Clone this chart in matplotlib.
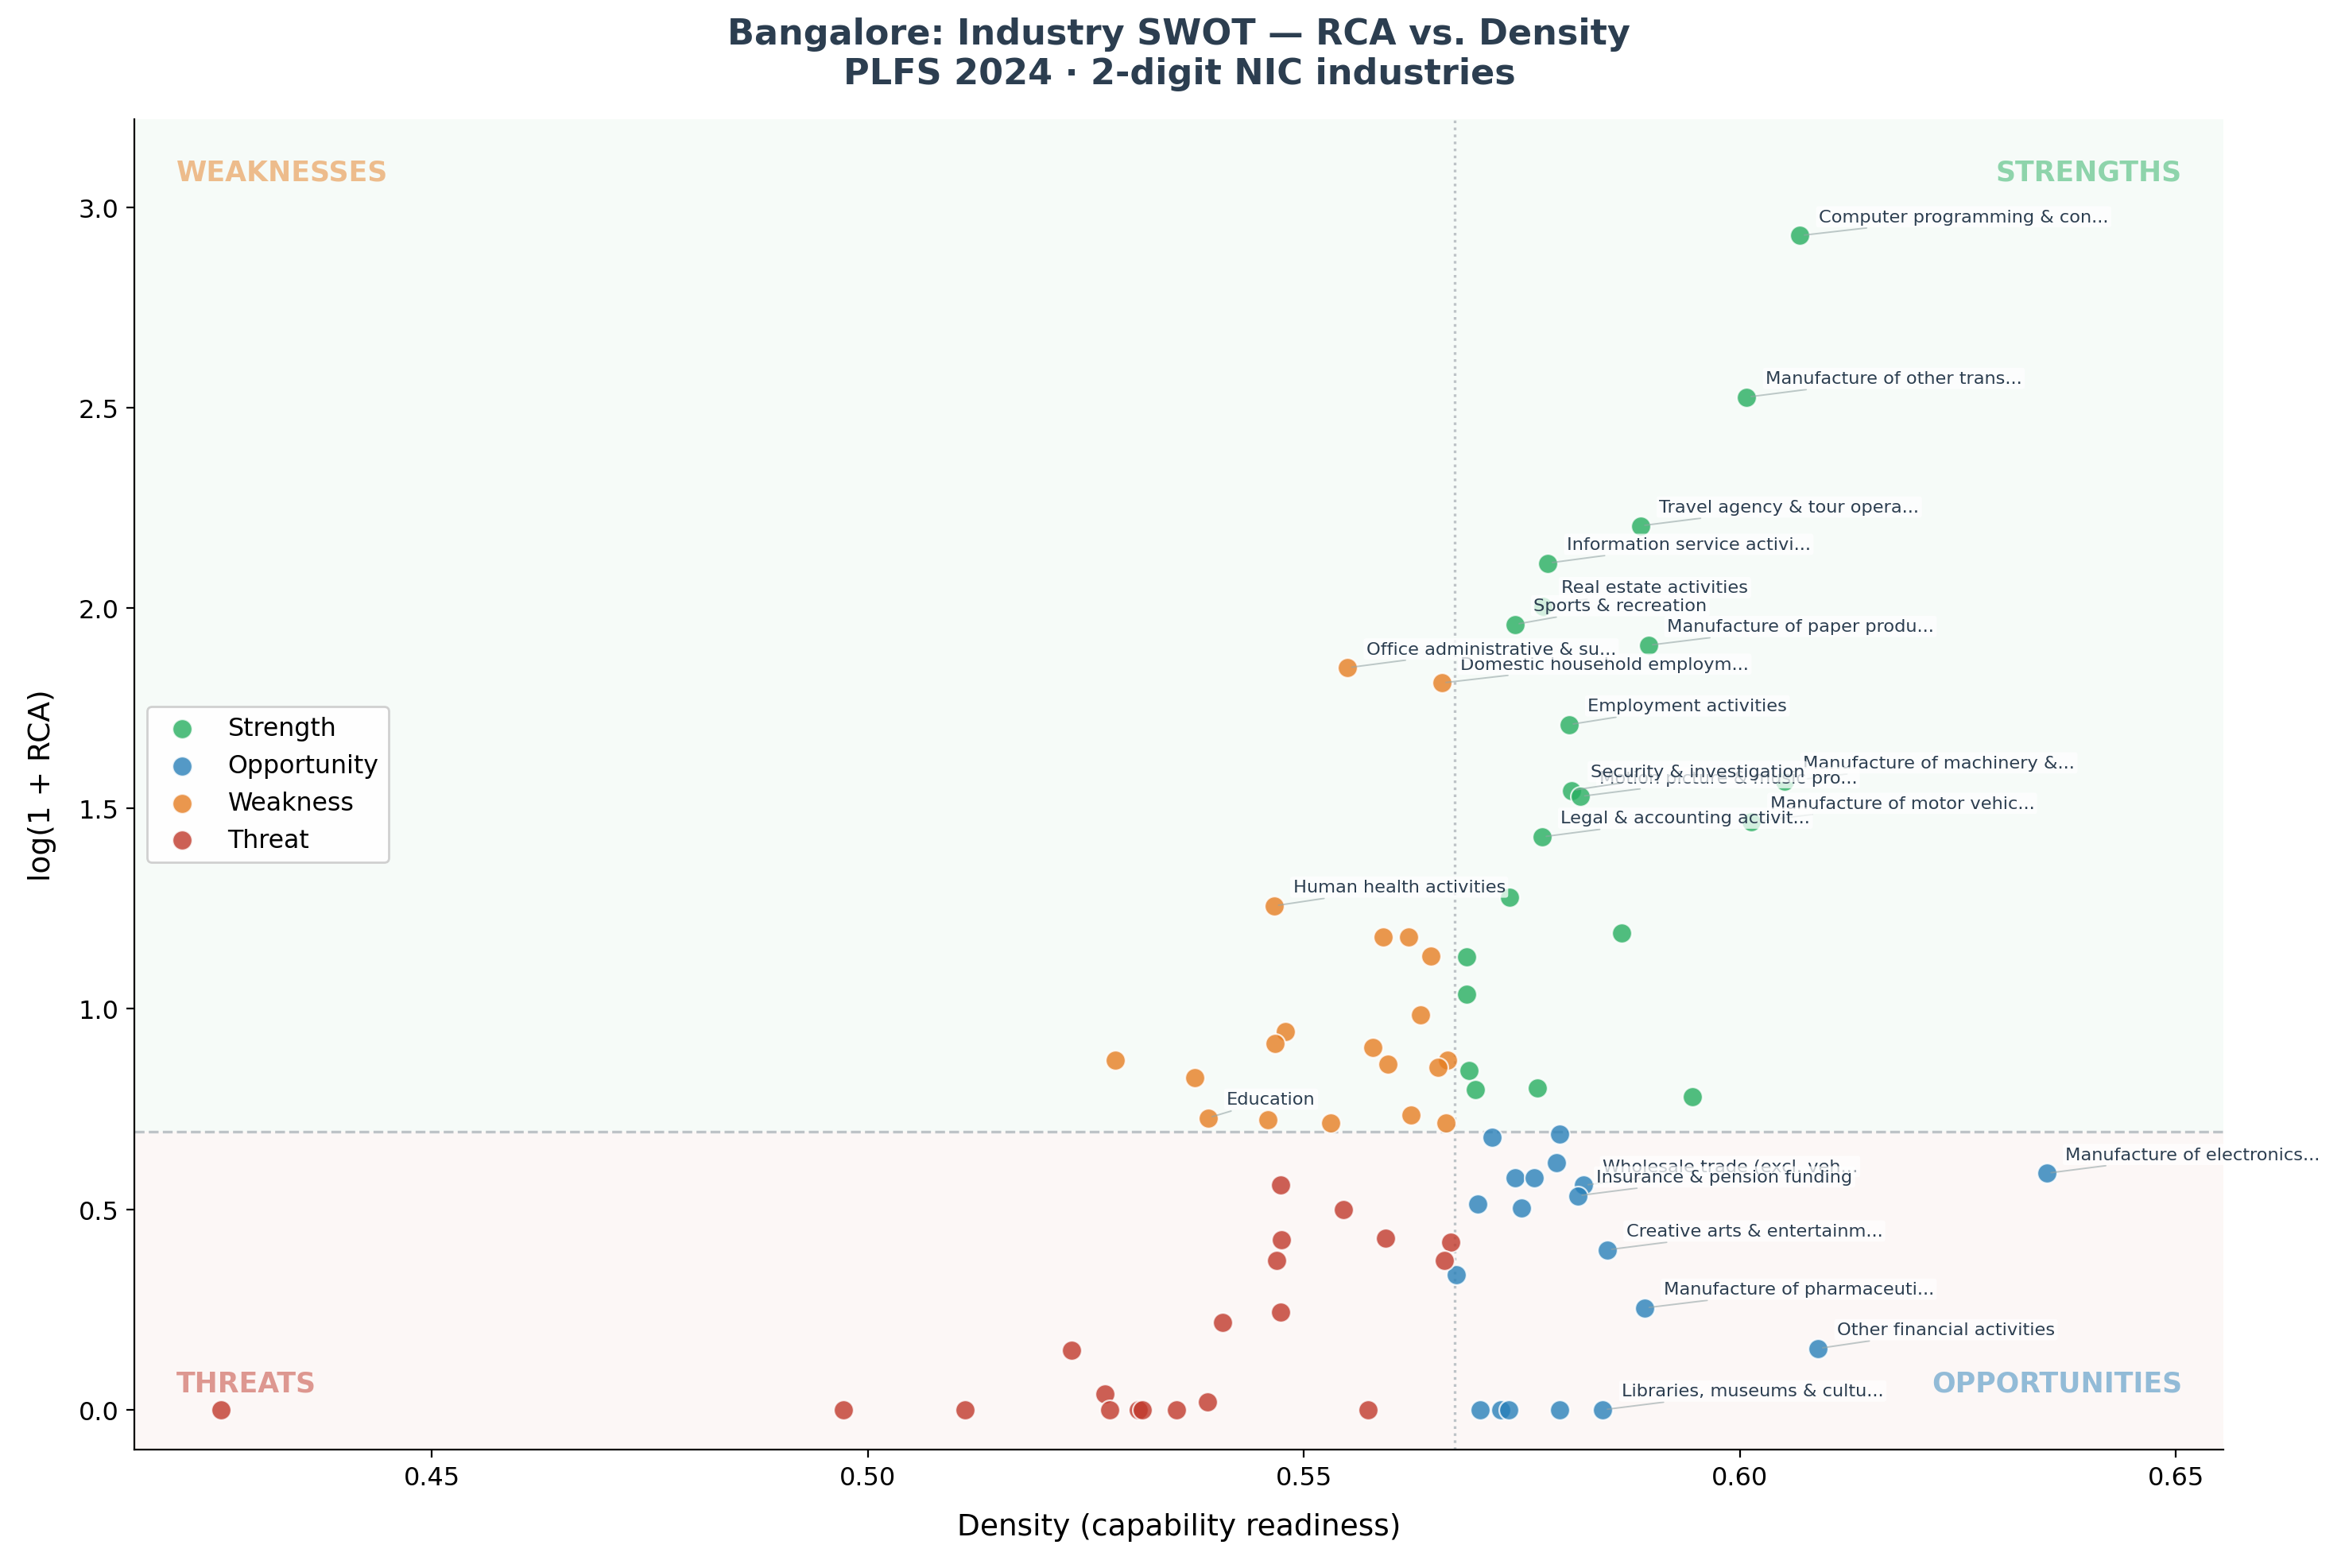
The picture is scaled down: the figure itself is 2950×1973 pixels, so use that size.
import numpy as np
import matplotlib
matplotlib.use('Agg')
import matplotlib.pyplot as plt

# ---- data ----
strength_density = [0.6069, 0.6008, 0.5886, 0.5780, 0.5774, 0.5742, 0.5895, 0.5804,
                    0.6051, 0.5807, 0.5817, 0.6013, 0.5773, 0.5736, 0.5864, 0.5687,
                    0.5687, 0.5689, 0.5768, 0.5697, 0.5946]
strength_lrca = [2.929, 2.526, 2.205, 2.112, 2.004, 1.959, 1.907, 1.709,
                 1.567, 1.545, 1.530, 1.466, 1.429, 1.278, 1.190, 1.130,
                 1.036, 0.846, 0.803, 0.798, 0.780]
strength_names = ["Computer programming & con...", "Manufacture of other trans...",
                  "Travel agency & tour opera...", "Information service activi...",
                  "Real estate activities", "Sports & recreation",
                  "Manufacture of paper produ...", "Employment activities",
                  "Manufacture of machinery &...", "Security & investigation",
                  "Motion picture & music pro...", "Manufacture of motor vehic...",
                  "Legal & accounting activit...", None, None, None, None, None,
                  None, None, None]

opp_density = [0.6352, 0.6090, 0.5891, 0.5848, 0.5843, 0.5821, 0.5814, 0.5716,
               0.5793, 0.5790, 0.5742, 0.5764, 0.5699, 0.5750, 0.5675, 0.5702,
               0.5726, 0.5735, 0.5793]
opp_lrca = [0.590, 0.153, 0.254, 0.399, 0.0, 0.560, 0.534, 0.680,
            0.687, 0.616, 0.578, 0.578, 0.513, 0.504, 0.336, 0.0,
            0.0, 0.0, 0.0]
opp_names = ["Manufacture of electronics...", "Other financial activities",
             "Manufacture of pharmaceuti...", "Creative arts & entertainm...",
             "Libraries, museums & cultu...", "Wholesale trade (excl. veh...",
             "Insurance & pension funding", None, None, None, None, None,
             None, None, None, None, None, None, None]

weak_density = [0.5550, 0.5658, 0.5466, 0.5390, 0.5591, 0.5620, 0.5646, 0.5634,
                0.5479, 0.5467, 0.5579, 0.5596, 0.5665, 0.5654, 0.5284, 0.5375,
                0.5459, 0.5531, 0.5623, 0.5663]
weak_lrca = [1.851, 1.813, 1.257, 0.728, 1.179, 1.179, 1.131, 0.985,
             0.944, 0.914, 0.903, 0.862, 0.873, 0.854, 0.873, 0.828,
             0.724, 0.716, 0.735, 0.716]
weak_names = ["Office administrative & su...", "Domestic household employm...",
              "Human health activities", "Education"] + [None] * 16

threat_density = [0.4258, 0.4972, 0.5111, 0.5234, 0.5272, 0.5277, 0.5310, 0.5315,
                  0.5354, 0.5389, 0.5407, 0.5473, 0.5474, 0.5469, 0.5473, 0.5545,
                  0.5594, 0.5574, 0.5668, 0.5661]
threat_lrca = [0.0, 0.0, 0.0, 0.149, 0.039, 0.0, 0.0, 0.0,
               0.0, 0.019, 0.218, 0.561, 0.425, 0.373, 0.243, 0.500,
               0.429, 0.0, 0.418, 0.373]
threat_names = [None] * 20

density_median = 0.5673
rca_threshold = np.log(2)   # RCA = 1

colors = {'Strength': '#27ae60', 'Opportunity': '#2980b9',
          'Weakness': '#e67e22', 'Threat': '#c0392b'}
text_color = '#2c3e50'

groups = [
    ('Strength', strength_density, strength_lrca, strength_names),
    ('Opportunity', opp_density, opp_lrca, opp_names),
    ('Weakness', weak_density, weak_lrca, weak_names),
    ('Threat', threat_density, threat_lrca, threat_names),
]

fig = plt.figure(figsize=(14.75, 9.87), dpi=200)
ax = fig.add_axes([0.0574, 0.0753, 0.8909, 0.8484])

xlim = (0.4159, 0.6555)
ylim = (-0.10, 3.22)

# quadrant shading
ax.axhspan(rca_threshold, ylim[1], color=colors['Strength'], alpha=0.04, lw=0, zorder=0)
ax.axhspan(ylim[0], rca_threshold, color=colors['Threat'], alpha=0.04, lw=0, zorder=0)

ax.axhline(rca_threshold, color='#bdc3c7', ls='--', lw=1.2, zorder=1)
ax.axvline(density_median, color='#bdc3c7', ls=':', lw=1.2, zorder=1)

for cat, xs, ys, names in groups:
    ax.scatter(xs, ys, s=80, color=colors[cat], alpha=0.8, edgecolor='white',
               linewidth=0.8, label=cat, zorder=3)

# labels, drawn in order of decreasing density
labelled = []
for cat, xs, ys, names in groups:
    for x, y, n in zip(xs, ys, names):
        if n:
            labelled.append((x, y, n))
labelled.sort(key=lambda t: -t[0])
for x, y, n in labelled:
    ax.annotate(n, (x, y), xytext=(8.5, 8.5), textcoords='offset points',
                fontsize=8.1, color=text_color, ha='left', va='center', zorder=4,
                bbox=dict(boxstyle='round,pad=0.15', fc='white', ec='none', alpha=0.75),
                arrowprops=dict(arrowstyle='-', color='#95a5a6', lw=0.7, alpha=0.6))

# quadrant names
qkw = dict(transform=ax.transAxes, fontsize=12.5, fontweight='bold', alpha=0.5)
ax.text(0.02, 0.97, 'WEAKNESSES', color=colors['Weakness'], ha='left', va='top', **qkw)
ax.text(0.98, 0.97, 'STRENGTHS', color=colors['Strength'], ha='right', va='top', **qkw)
ax.text(0.02, 0.04, 'THREATS', color=colors['Threat'], ha='left', va='bottom', **qkw)
ax.text(0.98, 0.04, 'OPPORTUNITIES', color=colors['Opportunity'], ha='right', va='bottom', **qkw)

ax.set_xlim(xlim)
ax.set_ylim(ylim)
ax.set_xticks([0.45, 0.50, 0.55, 0.60, 0.65])
ax.set_yticks([0.0, 0.5, 1.0, 1.5, 2.0, 2.5, 3.0])
ax.tick_params(labelsize=11.5)
ax.spines['top'].set_visible(False)
ax.spines['right'].set_visible(False)

ax.set_xlabel('Density (capability readiness)', fontsize=13.5, labelpad=10)
ax.set_ylabel('log(1 + RCA)', fontsize=13.5, labelpad=10)
ax.set_title('Bangalore: Industry SWOT \u2014 RCA vs. Density\nPLFS 2024 \u00b7 2-digit NIC industries',
             fontsize=16, fontweight='bold', color=text_color, pad=16)

ax.legend(loc='center left', fontsize=11.4, framealpha=0.9)

fig.savefig('out.png', dpi=200)
